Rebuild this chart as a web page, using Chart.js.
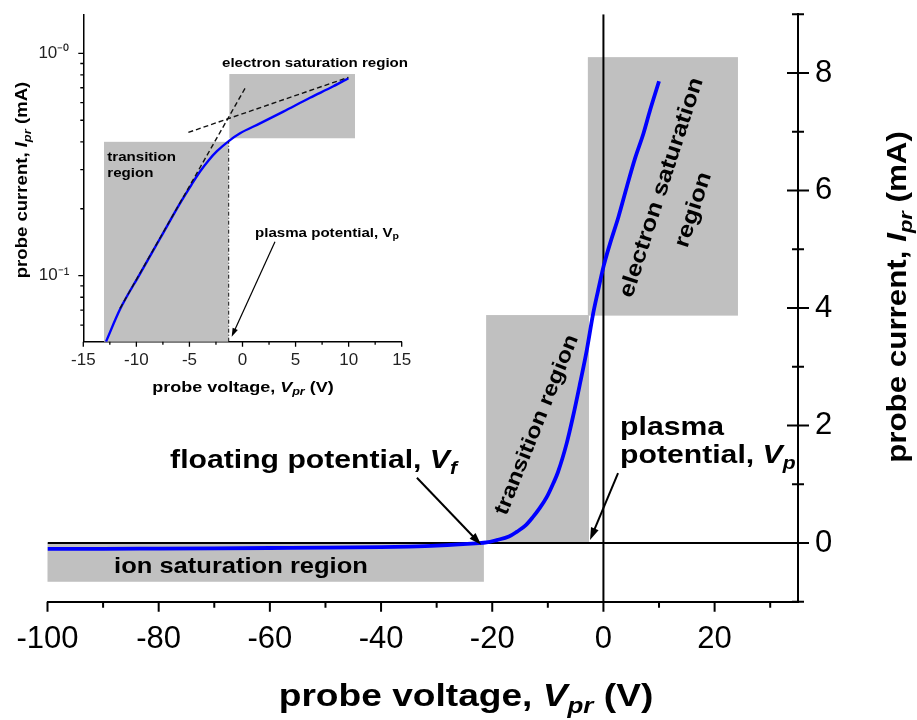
<!DOCTYPE html>
<html>
<head>
<meta charset="utf-8">
<title>Langmuir probe I-V characteristic</title>
<script src="https://cdn.jsdelivr.net/npm/chart.js@4.4.1/dist/chart.umd.min.js"></script>
<style>
  html, body { margin: 0; padding: 0; background: #fff; }
  #wrap { position: relative; width: 917px; height: 720px; }
  #mainChart, #insetChart { position: absolute; left: 0; top: 0; }
</style>
</head>
<body>
<div id="wrap">
  <canvas id="mainChart" width="917" height="720"></canvas>
  <canvas id="insetChart" width="420" height="400"></canvas>
</div>
<script>
const FONT = '"Liberation Sans", Arial, Helvetica, sans-serif';
const TEXT_SX = 1.16;          // lettering in the figure runs a little wider than Arial
const BOX_GRAY = '#c0c0c0';
const CURVE_BLUE = '#0000ff';

// --- main plot: probe voltage (V) vs probe current (mA) ---
const probeV = [-100, -90, -80, -70, -60, -50, -40, -35, -30, -26, -23, -21, -19.2, -17, -15.6, -14, -12.7, -11.5, -10.2, -9, -8.2, -6.6, -5.5, -4.2, -3, -1.9, -1, 0, 1.2, 2.7, 4.2, 5.7, 7.2, 8.4, 10];
const probeI = [-0.10, -0.10, -0.095, -0.09, -0.085, -0.08, -0.07, -0.06, -0.045, -0.025, -0.005, 0.01, 0.05, 0.11, 0.19, 0.30, 0.44, 0.59, 0.78, 1.02, 1.20, 1.70, 2.14, 2.72, 3.28, 3.88, 4.28, 4.70, 5.10, 5.55, 6.06, 6.55, 6.97, 7.37, 7.86];
const xTicks = [-100, -80, -60, -40, -20, 0, 20];
const xMinorTicks = [-90, -70, -50, -30, -10, 10, 30];
const yTicks = [0, 2, 4, 6, 8];
const yMinorTicks = [-1, 1, 3, 5, 7, 9];
const regionNames = ['ion saturation region', 'transition region', 'electron saturation', 'region'];
const regionV = [[-100, -21.5], [-21.1, -2.6], [-2.8, 24.2]];
const regionI = [[-0.66, 0], [0, 3.88], [3.87, 8.27]];

// --- inset: same curve, log current axis ---
const insetV = [-12.86, -11.54, -9.66, -7.77, -5.89, -4.8, -4.0, -3.2, -2.43, -1.24, -0.23, 1.65, 3.85, 6.36, 8.56, 9.98];
const insetI = [0.0505, 0.0706, 0.102, 0.147, 0.2115, 0.257, 0.294, 0.330, 0.362, 0.405, 0.437, 0.484, 0.547, 0.631, 0.711, 0.773];
const fitTransV = [-11.54, 0.24];
const fitTransI = [0.0713, 0.696];
const fitSatV = [-5.1, 9.98];
const fitSatI = [0.441, 0.780];
const insetXTicks = [-15, -10, -5, 0, 5, 10, 15];
const insetXMinor = [-12.5, -7.5, -2.5, 2.5, 7.5, 12.5];
const insetYTicks = [0.1, 1];
const insetYLabels = ['10\u207B\u00B9', '10\u207B\u2070'];
const insetYMinor = [0.06, 0.07, 0.08, 0.09, 0.2, 0.3, 0.4, 0.5, 0.6, 0.7, 0.8, 0.9];
const insetRegionV = [[-13.05, -1.33], [-1.24, 10.6]];
const insetRegionI = [[0.0505, 0.40], [0.415, 0.807]];
const plasmaV = -1.3;
const INSET_IMIN = 0.0505, INSET_IMAX = 1.487;

const pts = (xs, ys) => xs.map((v, i) => ({ x: v, y: ys[i] }));

// keep the plot area exactly where the padding puts it (no room for edge labels)
function noEdgePadding(s) {
  s.paddingTop = 0; s.paddingBottom = 0; s.paddingLeft = 0; s.paddingRight = 0;
}

// draws a line of text made of styled pieces (italic, subscript...)
function richText(ctx, parts, x, y, o) {
  const size = o.size;
  const fontOf = p => (p.italic ? 'italic ' : '') + (p.bold === false ? '' : 'bold ') + (p.sub ? size * 0.7 : size) + 'px ' + FONT;
  ctx.save();
  ctx.translate(x, y);
  if (o.rot) ctx.rotate(o.rot * Math.PI / 180);
  ctx.scale(o.sx || TEXT_SX, 1);
  ctx.fillStyle = o.color || '#000';
  ctx.textAlign = 'left';
  ctx.textBaseline = o.baseline || 'alphabetic';
  let total = 0;
  const widths = parts.map(p => { ctx.font = fontOf(p); const w = ctx.measureText(p.t).width; total += w; return w; });
  let cx = o.align === 'center' ? -total / 2 : o.align === 'right' ? -total : 0;
  parts.forEach((p, i) => {
    ctx.font = fontOf(p);
    ctx.fillText(p.t, cx, p.sub ? size * 0.22 : 0);
    cx += widths[i];
  });
  ctx.restore();
}

function drawArrow(ctx, x1, y1, x2, y2, lw, head) {
  const a = Math.atan2(y2 - y1, x2 - x1);
  ctx.save();
  ctx.strokeStyle = '#000';
  ctx.fillStyle = '#000';
  ctx.lineWidth = lw;
  ctx.beginPath();
  ctx.moveTo(x1, y1);
  ctx.lineTo(x2 - Math.cos(a) * head * 0.7, y2 - Math.sin(a) * head * 0.7);
  ctx.stroke();
  ctx.beginPath();
  ctx.moveTo(x2, y2);
  ctx.lineTo(x2 - head * Math.cos(a - 0.32), y2 - head * Math.sin(a - 0.32));
  ctx.lineTo(x2 - head * Math.cos(a + 0.32), y2 - head * Math.sin(a + 0.32));
  ctx.closePath();
  ctx.fill();
  ctx.restore();
}

function tickMarks(ctx, scale, values, from, to, lw) {
  ctx.save();
  ctx.strokeStyle = '#000';
  ctx.lineWidth = lw;
  ctx.beginPath();
  values.forEach(v => {
    const p = scale.getPixelForValue(v);
    if (scale.isHorizontal()) { ctx.moveTo(p, from); ctx.lineTo(p, to); }
    else { ctx.moveTo(from, p); ctx.lineTo(to, p); }
  });
  ctx.stroke();
  ctx.restore();
}

// gray regions, labels, arrows, ticks and axis titles of the main plot
const mainDecor = {
  id: 'mainDecor',
  beforeDatasetsDraw(chart) {
    const { ctx, scales: { x, y } } = chart;
    ctx.save();
    ctx.fillStyle = BOX_GRAY;
    regionV.forEach((r, i) => {
      const x0 = x.getPixelForValue(r[0]), x1 = x.getPixelForValue(r[1]);
      const y0 = y.getPixelForValue(regionI[i][1]), y1 = y.getPixelForValue(regionI[i][0]);
      ctx.fillRect(x0, y0, x1 - x0, y1 - y0);
    });
    ctx.restore();
  },
  afterDatasetsDraw(chart) {
    const { ctx, scales: { x, y } } = chart;
    const at = (v, i) => [x.getPixelForValue(v), y.getPixelForValue(i)];

    let p = at(-65.2, -0.51);
    richText(ctx, [{ t: regionNames[0] }], p[0], p[1], { size: 22, align: 'center' });
    p = at(-11.95, 2.01);
    richText(ctx, [{ t: regionNames[1] }], p[0], p[1], { size: 21, align: 'center', rot: -68, baseline: 'middle' });
    p = at(10.5, 6.05);
    richText(ctx, [{ t: regionNames[2] }], p[0], p[1], { size: 22, align: 'center', rot: -72, baseline: 'middle' });
    p = at(16.2, 5.67);
    richText(ctx, [{ t: regionNames[3] }], p[0], p[1], { size: 22, align: 'center', rot: -72, baseline: 'middle' });

    p = at(-26.35, 1.28);
    richText(ctx, [{ t: 'floating potential, ' }, { t: 'V', italic: true }, { t: 'f', italic: true, sub: true }], p[0], p[1], { size: 26, align: 'right' });
    p = at(3.0, 1.84);
    richText(ctx, [{ t: 'plasma' }], p[0], p[1], { size: 26 });
    p = at(3.0, 1.36);
    richText(ctx, [{ t: 'potential, ' }, { t: 'V', italic: true }, { t: 'p', italic: true, sub: true }], p[0], p[1], { size: 26 });

    let a = at(-33.55, 1.11), b = at(-22.0, -0.03);
    drawArrow(ctx, a[0], a[1], b[0], b[1], 2, 13);
    a = at(2.63, 1.19); b = at(-2.41, 0.05);
    drawArrow(ctx, a[0], a[1], b[0], b[1], 2, 13);
  },
  afterDraw(chart) {
    const { ctx, chartArea, scales: { x, y } } = chart;
    tickMarks(ctx, x, xTicks, chartArea.bottom, chartArea.bottom + 10, 2);
    tickMarks(ctx, x, xMinorTicks, chartArea.bottom, chartArea.bottom + 6, 2);
    tickMarks(ctx, y, yTicks, chartArea.right - 11, chartArea.right + 11, 2);
    tickMarks(ctx, y, yMinorTicks, chartArea.right - 6, chartArea.right + 6, 2);

    richText(ctx, [{ t: 'probe voltage, ' }, { t: 'V', italic: true }, { t: 'pr', italic: true, sub: true }, { t: ' (V)' }],
      466, 706, { size: 32, align: 'center' });
    richText(ctx, [{ t: 'probe current, ' }, { t: 'I', italic: true }, { t: 'pr', italic: true, sub: true }, { t: ' (mA)' }],
      906, 297, { size: 27, align: 'center', rot: -90 });
  }
};

new Chart(document.getElementById('mainChart'), {
  type: 'scatter',
  data: {
    datasets: [
      { data: pts(probeV, probeI), showLine: true, borderColor: CURVE_BLUE, borderWidth: 3.8, pointRadius: 0, cubicInterpolationMode: 'monotone', order: 0 },
      { data: pts([-100, 35], [0, 0]), showLine: true, borderColor: '#000', borderWidth: 2, pointRadius: 0, order: 1 },
      { data: pts([0, 0], [-1, 9]), showLine: true, borderColor: '#000', borderWidth: 2, pointRadius: 0, order: 2 }
    ]
  },
  options: {
    responsive: false,
    animation: false,
    layout: { padding: { left: 47.5, top: 14.25, right: 0, bottom: 0 } },
    plugins: { legend: { display: false }, tooltip: { enabled: false } },
    scales: {
      x: {
        type: 'linear', position: 'bottom', min: -100, max: 35,
        grid: { display: false, drawTicks: false },
        border: { display: true, color: '#000', width: 2 },
        ticks: { color: '#000', font: { family: FONT, size: 31 }, padding: 19, callback: v => String(v) },
        afterBuildTicks: s => { s.ticks = xTicks.map(v => ({ value: v })); },
        afterFit: s => { s.height = 118.25; noEdgePadding(s); }
      },
      y: {
        type: 'linear', position: 'right', min: -1, max: 9,
        grid: { display: false, drawTicks: false },
        border: { display: true, color: '#000', width: 2 },
        ticks: { color: '#000', font: { family: FONT, size: 31 }, padding: 17, callback: v => String(v) },
        afterBuildTicks: s => { s.ticks = yTicks.map(v => ({ value: v })); },
        afterFit: s => { s.width = 119; noEdgePadding(s); }
      }
    }
  },
  plugins: [mainDecor]
});

// --- inset ---
const insetDecor = {
  id: 'insetDecor',
  beforeDatasetsDraw(chart) {
    const { ctx, scales: { x, y } } = chart;
    ctx.save();
    ctx.fillStyle = BOX_GRAY;
    insetRegionV.forEach((r, i) => {
      const x0 = x.getPixelForValue(r[0]), x1 = x.getPixelForValue(r[1]);
      const y0 = y.getPixelForValue(insetRegionI[i][1]), y1 = y.getPixelForValue(insetRegionI[i][0]);
      ctx.fillRect(x0, y0, x1 - x0, y1 - y0);
    });
    ctx.restore();
  },
  afterDatasetsDraw(chart) {
    const { ctx, scales: { x, y } } = chart;
    const at = (v, i) => [x.getPixelForValue(v), y.getPixelForValue(i)];
    let p = at(-1.93, 0.865);
    richText(ctx, [{ t: 'electron saturation region' }], p[0], p[1], { size: 13 });
    p = at(-12.74, 0.329);
    richText(ctx, [{ t: 'transition' }], p[0], p[1], { size: 13 });
    p = at(-12.74, 0.277);
    richText(ctx, [{ t: 'region' }], p[0], p[1], { size: 13 });
    p = at(1.18, 0.150);
    richText(ctx, [{ t: 'plasma potential, V' }, { t: 'p', sub: true }], p[0], p[1], { size: 13 });
    const a = at(3.06, 0.142), b = at(-1.02, 0.0532);
    drawArrow(ctx, a[0], a[1], b[0], b[1], 1.2, 9);
  },
  afterDraw(chart) {
    const { ctx, chartArea, scales: { x, y } } = chart;
    tickMarks(ctx, x, insetXTicks, chartArea.bottom, chartArea.bottom + 5, 1.3);
    tickMarks(ctx, x, insetXMinor, chartArea.bottom, chartArea.bottom + 3, 1.3);
    tickMarks(ctx, y, insetYTicks, chartArea.left - 5, chartArea.left, 1.3);
    tickMarks(ctx, y, insetYMinor, chartArea.left - 3, chartArea.left, 1.3);
    richText(ctx, [{ t: 'probe voltage, ' }, { t: 'V', italic: true }, { t: 'pr', italic: true, sub: true }, { t: ' (V)' }],
      243, 392, { size: 15.5, align: 'center' });
    richText(ctx, [{ t: 'probe current, ' }, { t: 'I', italic: true }, { t: 'pr', italic: true, sub: true }, { t: ' (mA)' }],
      27, 180, { size: 16, align: 'center', rot: -90 });
  }
};

new Chart(document.getElementById('insetChart'), {
  type: 'scatter',
  data: {
    datasets: [
      { data: pts(fitTransV, fitTransI), showLine: true, borderColor: '#111', borderWidth: 1.4, borderDash: [5, 3], pointRadius: 0, order: 0 },
      { data: pts(fitSatV, fitSatI), showLine: true, borderColor: '#111', borderWidth: 1.4, borderDash: [5, 3], pointRadius: 0, order: 1 },
      { data: pts([plasmaV, plasmaV], [INSET_IMIN, 0.40]), showLine: true, borderColor: '#111', borderWidth: 1, borderDash: [4, 2, 1, 2], pointRadius: 0, order: 2 },
      { data: pts(insetV, insetI), showLine: true, borderColor: CURVE_BLUE, borderWidth: 2.4, pointRadius: 0, cubicInterpolationMode: 'monotone', order: 3 }
    ]
  },
  options: {
    responsive: false,
    animation: false,
    layout: { padding: { left: 0, top: 15, right: 18.3, bottom: 0 } },
    plugins: { legend: { display: false }, tooltip: { enabled: false } },
    scales: {
      x: {
        type: 'linear', position: 'bottom', min: -15, max: 15,
        grid: { display: false, drawTicks: false },
        border: { display: true, color: '#000', width: 1.5 },
        ticks: { color: '#222', font: { family: FONT, size: 17 }, padding: 8, callback: v => String(v) },
        afterBuildTicks: s => { s.ticks = insetXTicks.map(v => ({ value: v })); },
        afterFit: s => { s.height = 58.3; noEdgePadding(s); }
      },
      y: {
        type: 'logarithmic', position: 'left', min: INSET_IMIN, max: INSET_IMAX,
        grid: { display: false, drawTicks: false },
        border: { display: true, color: '#000', width: 1.5 },
        ticks: { color: '#222', font: { family: FONT, size: 17 }, padding: 14, callback: v => insetYLabels[insetYTicks.indexOf(v)] },
        afterBuildTicks: s => { s.ticks = insetYTicks.map(v => ({ value: v })); },
        afterFit: s => { s.width = 83.3; noEdgePadding(s); }
      }
    }
  },
  plugins: [insetDecor]
});
</script>
</body>
</html>
